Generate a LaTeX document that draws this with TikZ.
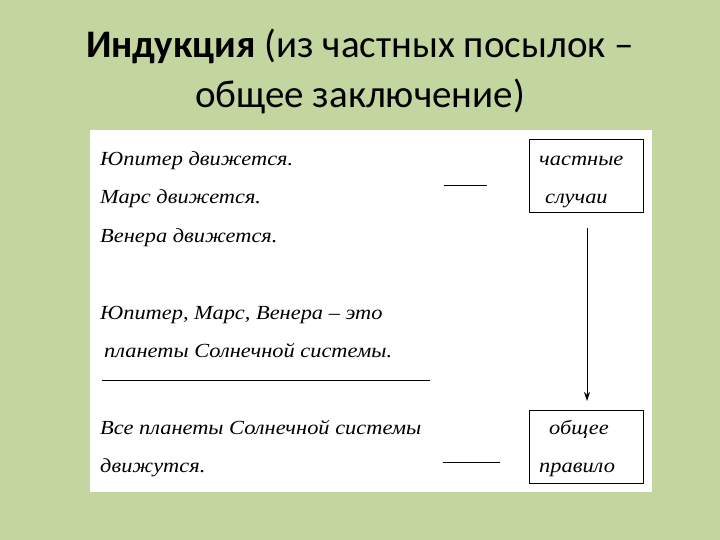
\documentclass[tikz,border=0pt]{standalone}
\usepackage{fontspec}
\usetikzlibrary{arrows.meta}
\setmainfont{Liberation Serif}
\newfontfamily\titlefont{Carlito}
\newfontfamily\bodyfont[FakeStretch=1.12]{Liberation Serif}
\definecolor{bg}{RGB}{196,214,160}
\begin{document}
\begin{tikzpicture}[x=1pt,y=-1pt,
  txt/.style={anchor=base west,inner sep=0pt,font=\bodyfont\fontsize{20}{22}\selectfont\itshape},
  ttl/.style={inner sep=0pt,font=\titlefont\fontsize{39}{44}\selectfont},
  rule/.style={draw=black,line width=1pt},
  box/.style={draw=black,line width=1.2pt,fill=white,inner sep=0pt}]
\useasboundingbox (0,0) rectangle (720,540);
\fill[bg] (0,0) rectangle (720,540);
\fill[white] (90,130) rectangle (652,492);
\node[ttl] (t1) at (360,46) {\textbf{Индукция} (из частных посылок –};
\node[ttl] (t2) at (360,96) {общее заключение)};
\node[txt] (a1) at (100,166) {Юпитер движется.};
\node[txt] (a2) at (100,204) {Марс движется.};
\node[txt] (a3) at (100,243) {Венера движется.};
\node[txt] (a4) at (100,319) {Юпитер, Марс, Венера – это};
\node[txt] (a5) at (104,357) {планеты Солнечной системы.};
\node[txt] (a6) at (100,434) {Все планеты Солнечной системы};
\node[txt] (a7) at (100,472) {движутся.};
\node[box,minimum width=114pt,minimum height=73pt,anchor=north west] (b1) at (529,139) {};
\node[txt] at (539,166) {частные};
\node[txt] at (545,204) {случаи};
\node[box,minimum width=114pt,minimum height=73pt,anchor=north west] (b2) at (529,410) {};
\node[txt] at (549,434) {общее};
\node[txt] at (539,472) {правило};
\coordinate (s1) at (444,186); \coordinate (e1) at (487,186);
\draw[rule] (s1) -- (e1);
\coordinate (s2) at (102,380); \coordinate (e2) at (430,380);
\draw[rule] (s2) -- (e2);
\coordinate (s3) at (443,462); \coordinate (e3) at (500,462);
\draw[rule] (s3) -- (e3);
\coordinate (ar1) at (587,228); \coordinate (ar2) at (587,401);
\draw[line width=1pt,-{Stealth[length=9pt,width=6pt]}] (ar1) -- (ar2);
\end{tikzpicture}
\end{document}
